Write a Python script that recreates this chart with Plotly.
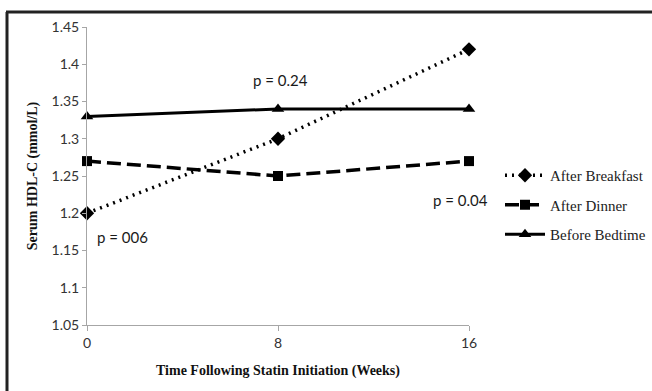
import plotly.graph_objects as go

weeks = [0, 8, 16]
after_breakfast = [1.20, 1.30, 1.42]
after_dinner = [1.27, 1.25, 1.27]
before_bedtime = [1.33, 1.34, 1.34]

y_ticks = [1.05, 1.10, 1.15, 1.20, 1.25, 1.30, 1.35, 1.40, 1.45]
y_tick_text = ["1.05", "1.1", "1.15", "1.2", "1.25", "1.3", "1.35", "1.4", "1.45"]
x_ticks = [0, 8, 16]

W, H = 652, 391
L, R, T, B = 87, 469, 27, 325

fig = go.Figure()
fig.add_trace(go.Scatter(
    x=weeks, y=after_breakfast, name="After Breakfast", mode="lines+markers",
    line=dict(color="black", width=3.5, dash="2px,5px"),
    marker=dict(symbol="diamond", size=11, color="black"),
    cliponaxis=False, legendgroup="a"))
fig.add_trace(go.Scatter(
    x=weeks, y=after_dinner, name="After Dinner", mode="lines+markers",
    line=dict(color="black", width=3.5, dash="14px,6px"),
    marker=dict(symbol="square", size=10, color="black"),
    cliponaxis=False, legendgroup="b"))
fig.add_trace(go.Scatter(
    x=weeks, y=before_bedtime, name="Before Bedtime", mode="lines+markers",
    line=dict(color="black", width=3),
    marker=dict(symbol="triangle-up", size=11, color="black"),
    cliponaxis=False, legendgroup="c"))

def px_x(p):
    return (p - L) / (R - L)

def px_y(p):
    return (B - p) / (B - T)

annotations = [
    dict(text="p = 0.24", x=px_x(280), y=px_y(80)),
    dict(text="p = 006", x=px_x(122), y=px_y(237)),
    dict(text="p = 0.04", x=px_x(460), y=px_y(200)),
]
for a in annotations:
    a.update(xref="paper", yref="paper", showarrow=False, xanchor="center", yanchor="middle",
             font=dict(family="Lato, Open Sans, sans-serif", size=15, color="#1a1a1a"))

fig.update_layout(
    width=W, height=H,
    margin=dict(l=L, r=W - R, t=T, b=H - B, autoexpand=False),
    paper_bgcolor="white", plot_bgcolor="white",
    showlegend=True,
    legend=dict(
        x=px_x(500), y=px_y(159), xanchor="left", yanchor="top",
        font=dict(family="Liberation Serif, Times New Roman, serif", size=15, color="#222222"),
        tracegroupgap=7, traceorder="grouped", bgcolor="rgba(0,0,0,0)",
        itemwidth=40,
    ),
    annotations=annotations,
    xaxis=dict(
        range=[0, 16], tickvals=x_ticks, ticktext=[str(v) for v in x_ticks],
        showgrid=False, zeroline=False, showline=True, linecolor="#a6a6a6", linewidth=1,
        ticks="outside", ticklen=5, tickcolor="#a6a6a6",
        tickfont=dict(family="Lato, Open Sans, sans-serif", size=14, color="#333333"),
        title=dict(text="<b>Time Following Statin Initiation (Weeks)</b>", standoff=15,
                   font=dict(family="Liberation Serif, Times New Roman, serif", size=14, color="#111111")),
    ),
    yaxis=dict(
        range=[1.05, 1.45], tickvals=y_ticks, ticktext=y_tick_text,
        showgrid=False, zeroline=False, showline=True, linecolor="#a6a6a6", linewidth=1,
        ticks="outside", ticklen=4, tickcolor="#a6a6a6",
        tickfont=dict(family="Lato, Open Sans, sans-serif", size=14, color="#333333"),
        title=dict(text="<b>Serum HDL-C (mmol/L)</b>", standoff=10,
                   font=dict(family="Liberation Serif, Times New Roman, serif", size=14, color="#111111")),
    ),
    shapes=[
        dict(type="line", xref="paper", yref="paper", x0=px_x(6), x1=px_x(W), y0=px_y(12), y1=px_y(12),
             line=dict(color="#222222", width=3)),
        dict(type="line", xref="paper", yref="paper", x0=px_x(7), x1=px_x(7), y0=px_y(12), y1=px_y(H),
             line=dict(color="#222222", width=3)),
    ],
)

fig.write_html("out.html", config={"displayModeBar": False},
               post_script="document.body.style.margin='0';document.body.style.overflow='hidden';")
